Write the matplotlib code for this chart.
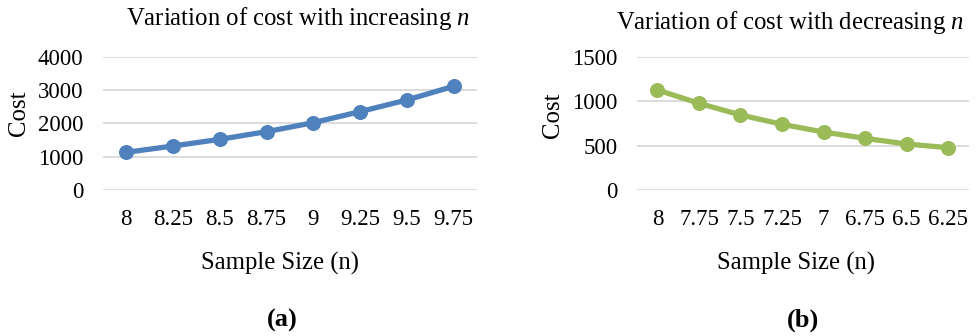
import numpy as np
import matplotlib.pyplot as plt

plt.rcParams['font.family'] = ['Liberation Serif', 'DejaVu Serif']
plt.rcParams['mathtext.fontset'] = 'custom'
plt.rcParams['mathtext.it'] = 'Liberation Serif:italic'
plt.rcParams['mathtext.rm'] = 'Liberation Serif'

# increasing sample size
n_up = ['8', '8.25', '8.5', '8.75', '9', '9.25', '9.5', '9.75']
cost_up = [1130, 1320, 1520, 1750, 2020, 2350, 2700, 3110]

# decreasing sample size
n_down = ['8', '7.75', '7.5', '7.25', '7', '6.75', '6.5', '6.25']
cost_down = [1125, 975, 844, 739, 652, 581, 517, 476]

blue = '#4f81bd'
green = '#9bbb59'
fs_tick = 16.5
fs = 17.8

fig = plt.figure(figsize=(9.79, 3.36), dpi=100)

def panel(rect, labels, values, color, ymax, ystep):
    ax = fig.add_axes(rect)
    x = np.arange(len(labels))
    ax.plot(x, values, color=color, lw=3.8, marker='o', ms=9.8,
            solid_capstyle='round', zorder=3)
    ax.set_xlim(-0.5, len(labels) - 0.5)
    ax.set_ylim(0, ymax)
    ax.set_yticks(np.arange(0, ymax + 1, ystep))
    ax.set_xticks(x)
    ax.set_xticklabels(labels)
    ax.yaxis.grid(True, color='#d9d9d9', lw=1.3)
    ax.set_axisbelow(True)
    for s in ax.spines.values():
        s.set_visible(False)
    ax.tick_params(length=0, labelsize=fs_tick)
    ax.tick_params(axis='y', pad=14)
    ax.tick_params(axis='x', pad=14)
    return ax

ax1 = panel([0.1052, 0.4345, 0.382, 0.397], n_up, cost_up, blue, 4000, 1000)
ax2 = panel([0.6503, 0.4345, 0.3394, 0.397], n_down, cost_down, green, 1500, 500)

H = 336.0
W = 979.0
fig.text(298 / W, 1 - 19 / H, 'Variation of cost with increasing $n$',
         ha='center', va='center', fontsize=fs)
fig.text(790 / W, 1 - 22 / H, 'Variation of cost with decreasing $n$',
         ha='center', va='center', fontsize=fs)

fig.text(19 / W, 1 - 113 / H, 'Cost', rotation=90, ha='center', va='center', fontsize=fs)
fig.text(553 / W, 1 - 115 / H, 'Cost', rotation=90, ha='center', va='center', fontsize=fs)

fig.text(280 / W, 1 - 263 / H, 'Sample Size (n)', ha='center', va='center', fontsize=fs)
fig.text(796 / W, 1 - 263 / H, 'Sample Size (n)', ha='center', va='center', fontsize=fs)

fig.text(282 / W, 1 - 320 / H, '(a)', ha='center', va='center', fontsize=19, fontweight='bold')
fig.text(803 / W, 1 - 320 / H, '(b)', ha='center', va='center', fontsize=19, fontweight='bold')

fig.savefig('out.png', dpi=100)
